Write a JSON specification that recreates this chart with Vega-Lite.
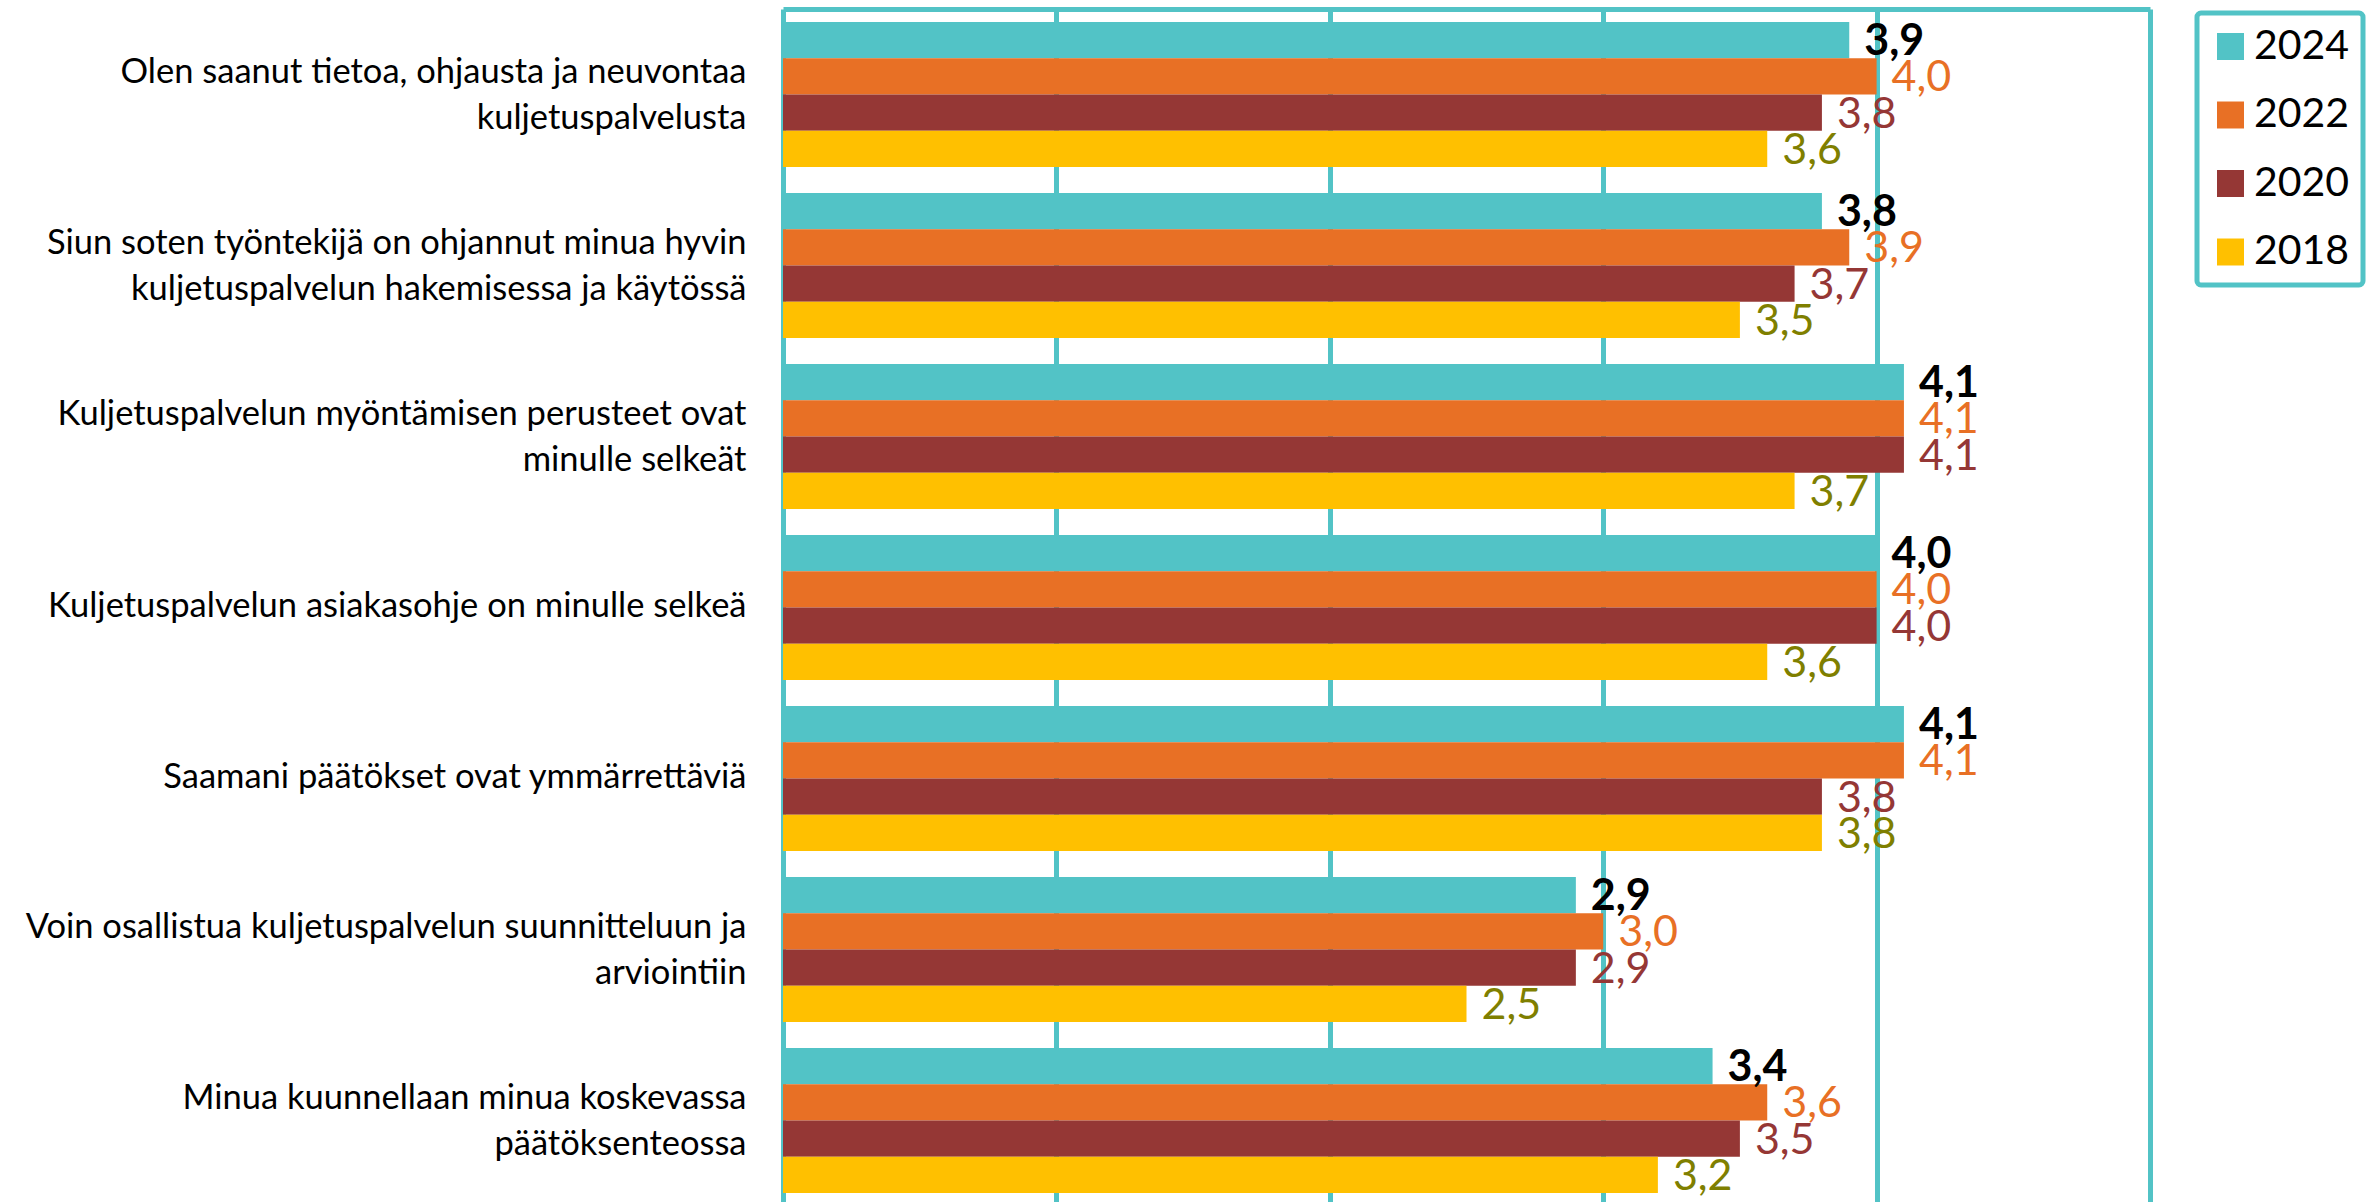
{
  "$schema": "https://vega.github.io/schema/vega-lite/v6.json",
  "width": 1367,
  "height": 1193,
  "autosize": {"type": "none"},
  "padding": {"left": 783, "top": 9, "right": 226, "bottom": 0},
  "background": "white",
  "config": {
    "view": {"stroke": null},
    "font": "Lato",
    "locale": {"number": {"decimal": ",", "thousands": " ", "grouping": [3], "currency": ["", " €"]}}
  },
  "data": {
    "values": [
      {"item": "Olen saanut tietoa, ohjausta ja neuvontaa\nkuljetuspalvelusta", "year": "2024", "value": 3.9},
      {"item": "Olen saanut tietoa, ohjausta ja neuvontaa\nkuljetuspalvelusta", "year": "2022", "value": 4.0},
      {"item": "Olen saanut tietoa, ohjausta ja neuvontaa\nkuljetuspalvelusta", "year": "2020", "value": 3.8},
      {"item": "Olen saanut tietoa, ohjausta ja neuvontaa\nkuljetuspalvelusta", "year": "2018", "value": 3.6},
      {"item": "Siun soten työntekijä on ohjannut minua hyvin\nkuljetuspalvelun hakemisessa ja käytössä", "year": "2024", "value": 3.8},
      {"item": "Siun soten työntekijä on ohjannut minua hyvin\nkuljetuspalvelun hakemisessa ja käytössä", "year": "2022", "value": 3.9},
      {"item": "Siun soten työntekijä on ohjannut minua hyvin\nkuljetuspalvelun hakemisessa ja käytössä", "year": "2020", "value": 3.7},
      {"item": "Siun soten työntekijä on ohjannut minua hyvin\nkuljetuspalvelun hakemisessa ja käytössä", "year": "2018", "value": 3.5},
      {"item": "Kuljetuspalvelun myöntämisen perusteet ovat\nminulle selkeät", "year": "2024", "value": 4.1},
      {"item": "Kuljetuspalvelun myöntämisen perusteet ovat\nminulle selkeät", "year": "2022", "value": 4.1},
      {"item": "Kuljetuspalvelun myöntämisen perusteet ovat\nminulle selkeät", "year": "2020", "value": 4.1},
      {"item": "Kuljetuspalvelun myöntämisen perusteet ovat\nminulle selkeät", "year": "2018", "value": 3.7},
      {"item": "Kuljetuspalvelun asiakasohje on minulle selkeä", "year": "2024", "value": 4.0},
      {"item": "Kuljetuspalvelun asiakasohje on minulle selkeä", "year": "2022", "value": 4.0},
      {"item": "Kuljetuspalvelun asiakasohje on minulle selkeä", "year": "2020", "value": 4.0},
      {"item": "Kuljetuspalvelun asiakasohje on minulle selkeä", "year": "2018", "value": 3.6},
      {"item": "Saamani päätökset ovat ymmärrettäviä", "year": "2024", "value": 4.1},
      {"item": "Saamani päätökset ovat ymmärrettäviä", "year": "2022", "value": 4.1},
      {"item": "Saamani päätökset ovat ymmärrettäviä", "year": "2020", "value": 3.8},
      {"item": "Saamani päätökset ovat ymmärrettäviä", "year": "2018", "value": 3.8},
      {"item": "Voin osallistua kuljetuspalvelun suunnitteluun ja\narviointiin", "year": "2024", "value": 2.9},
      {"item": "Voin osallistua kuljetuspalvelun suunnitteluun ja\narviointiin", "year": "2022", "value": 3.0},
      {"item": "Voin osallistua kuljetuspalvelun suunnitteluun ja\narviointiin", "year": "2020", "value": 2.9},
      {"item": "Voin osallistua kuljetuspalvelun suunnitteluun ja\narviointiin", "year": "2018", "value": 2.5},
      {"item": "Minua kuunnellaan minua koskevassa\npäätöksenteossa", "year": "2024", "value": 3.4},
      {"item": "Minua kuunnellaan minua koskevassa\npäätöksenteossa", "year": "2022", "value": 3.6},
      {"item": "Minua kuunnellaan minua koskevassa\npäätöksenteossa", "year": "2020", "value": 3.5},
      {"item": "Minua kuunnellaan minua koskevassa\npäätöksenteossa", "year": "2018", "value": 3.2}
    ]
  },
  "encoding": {
    "y": {
      "field": "item",
      "type": "nominal",
      "sort": null,
      "title": null,
      "scale": {"paddingInner": 0.152, "paddingOuter": 0.0643, "align": 0.59},
      "axis": {
        "domain": true,
        "domainColor": "#52C3C6",
        "domainWidth": 5,
        "ticks": false,
        "grid": false,
        "labelFont": "Lato",
        "labelFontSize": 34.5,
        "labelColor": "#000000",
        "labelPadding": 37,
        "labelLimit": 900,
        "labelLineHeight": 46,
        "labelAlign": "right",
        "labelBaseline": "middle",
        "labelExpr": "split(datum.label, '\\n')",
        "labelOffset": {"condition": {"test": "indexof(datum.value, '\\n') >= 0", "value": -21}, "value": 0}
      }
    },
    "yOffset": {
      "field": "year",
      "type": "nominal",
      "sort": ["2024", "2022", "2020", "2018"],
      "scale": {"domain": ["2024", "2022", "2020", "2018"], "paddingInner": 0, "paddingOuter": 0}
    },
    "x": {
      "field": "value",
      "type": "quantitative",
      "title": null,
      "scale": {"domain": [0, 5], "nice": false, "zero": true},
      "axis": {
        "orient": "top",
        "values": [1, 2, 3, 4, 5],
        "labels": false,
        "ticks": false,
        "domain": true,
        "domainColor": "#52C3C6",
        "domainWidth": 5,
        "grid": true,
        "gridColor": "#52C3C6",
        "gridWidth": 5,
        "gridOpacity": 1
      }
    }
  },
  "layer": [
    {
      "mark": {"type": "bar"},
      "encoding": {
        "color": {
          "field": "year",
          "type": "nominal",
          "scale": {"domain": ["2024", "2022", "2020", "2018"], "range": ["#52C3C6", "#E87025", "#953735", "#FFC000"]},
          "legend": {
            "title": null,
            "orient": "none",
            "legendX": 1414,
            "legendY": 4,
            "symbolType": "square",
            "symbolSize": 729,
            "symbolStrokeWidth": 0,
            "symbolOpacity": 1,
            "labelFont": "Lato",
            "labelFontSize": 41,
            "labelColor": "#000000",
            "labelOffset": 3,
            "rowPadding": 26.5,
            "padding": 13,
            "strokeColor": "#52C3C6",
            "cornerRadius": 4,
            "fillColor": "white",
            "encode": {"legend": {"update": {"strokeWidth": {"value": 5}}}}
          }
        }
      }
    },
    {
      "transform": [{"filter": "datum.year == '2024'"}],
      "mark": {"type": "text", "align": "left", "baseline": "middle", "dx": 15, "dy": 2, "font": "Lato", "fontSize": 43, "fontWeight": "bold", "color": "#000000"},
      "encoding": {
        "text": {"field": "value", "type": "quantitative", "format": ".1f"}
      }
    },
    {
      "transform": [{"filter": "datum.year != '2024'"}],
      "mark": {"type": "text", "align": "left", "baseline": "middle", "dx": 15, "dy": 2, "font": "Lato", "fontSize": 43},
      "encoding": {
        "text": {"field": "value", "type": "quantitative", "format": ".1f"},
        "color": {
          "field": "year",
          "type": "nominal",
          "scale": {"domain": ["2022", "2020", "2018"], "range": ["#E87025", "#953735", "#7F7F00"]},
          "legend": null
        }
      }
    }
  ],
  "resolve": {"scale": {"color": "independent"}}
}
